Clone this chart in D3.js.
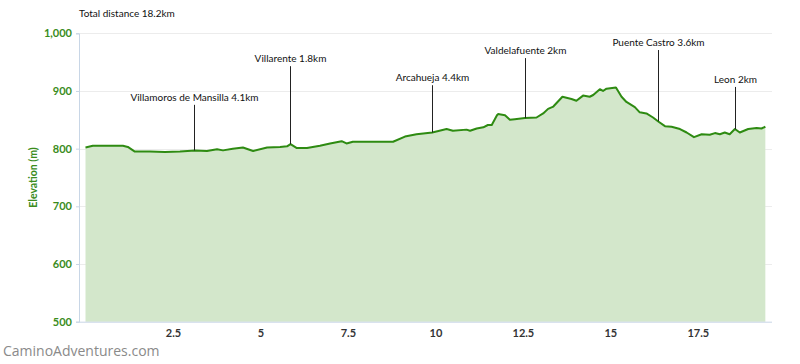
<!DOCTYPE html>
<html><head><meta charset="utf-8">
<script src="https://cdn.jsdelivr.net/npm/d3@7"></script>
<style>html,body{margin:0;padding:0;background:#fff;}svg{display:block;font-family:Lato,"Open Sans",sans-serif;}</style>
</head><body>
<svg id="c" width="800" height="364"></svg>
<script>
// ---- data ----
const distanceKm = [0,0.21,1.07,1.21,1.41,1.84,2.27,2.7,3.13,3.47,3.76,3.93,4.21,4.5,4.79,5.19,5.56,5.76,5.86,6.04,6.33,6.7,6.99,7.32,7.46,7.64,8.32,8.79,9.13,9.46,9.91,10.32,10.5,10.89,10.99,11.18,11.37,11.5,11.61,11.76,11.79,11.99,12.13,12.27,12.56,12.89,13.08,13.22,13.37,13.63,13.89,14.03,14.22,14.41,14.51,14.7,14.79,14.89,15.16,15.32,15.46,15.7,15.84,16.03,16.22,16.37,16.56,16.75,16.99,17.18,17.39,17.61,17.84,17.99,18.13,18.27,18.41,18.56,18.7,18.94,19.18,19.32,19.43];
const elevationM = [802,805,805,803,795,795,794,795,797,796,799,797,800,802,796,802,803,804,808,801,801,805,809,813,809,812,812,812,821,825,828,834,831,833,831,835,837,841,841,858,860,858,850,851,853,854,861,869,873,890,886,883,892,890,893,903,900,904,906,890,881,872,863,861,854,847,839,838,834,828,820,825,824,827,825,828,825,834,828,834,836,835,838];
const yTicks = [500,600,700,800,900,1000];
const xTicks = [2.5,5,7.5,10,12.5,15,17.5];
const markerNames = ["Villamoros de Mansilla 4.1km","Villarente 1.8km","Arcahueja 4.4km","Valdelafuente 2km","Puente Castro 3.6km","Leon 2km"];
const markerKm = [3.1,5.85,9.91,12.56,16.36,18.57];
const markerLabelElev = [876,943,910,957,971,907];
const titleText = "Total distance 18.2km";
const yTitle = "Elevation (m)";
const watermark = "CaminoAdventures.com";

// ---- layout ----
const svg = d3.select("#c");
const x = d3.scaleLinear().domain([0,19.62]).range([85.5,772]);
const y = d3.scaleLinear().domain([500,1000]).range([321.7,33.3]);
const data = distanceKm.map((d,i)=>({d, e: elevationM[i]}));
const green = "#3a8c1c";

// gridlines
svg.append("g").selectAll("line").data(yTicks.filter(t=>t>500)).join("line")
  .attr("x1",79).attr("x2",772).attr("y1",d=>Math.round(y(d))+0.5).attr("y2",d=>Math.round(y(d))+0.5)
  .attr("stroke","#ececec").attr("stroke-width",1);

// area + line
svg.append("path").datum(data)
  .attr("d", d3.area().x(p=>x(p.d)).y0(y(500)).y1(p=>y(p.e)))
  .attr("fill","#d3e7cb");
svg.append("path").datum(data)
  .attr("d", d3.line().x(p=>x(p.d)).y(p=>y(p.e)))
  .attr("fill","none").attr("stroke","#2e8b12").attr("stroke-width",2).attr("stroke-linejoin","round");

// y axis
const yAxis = d3.axisLeft(y).tickValues(yTicks).tickSize(3).tickPadding(4).tickFormat(d3.format(","));
const gy = svg.append("g").attr("transform","translate(79,0)").call(yAxis);
gy.select(".domain").attr("stroke","#c8d6e6");
gy.selectAll(".tick line").attr("stroke","#c8d6e6");
gy.selectAll("text").attr("fill",green).attr("font-weight","bold").attr("font-size",11).attr("font-family","Lato,sans-serif");

// x axis
const xAxis = d3.axisBottom(x).tickValues(xTicks).tickSize(0).tickPadding(8).tickFormat(d=>String(d));
const gx = svg.append("g").attr("transform",`translate(0,${y(500)})`).call(xAxis);
gx.select(".domain").attr("stroke","#c8d6e6").attr("d","M79,0.5H772");
gx.selectAll("text").attr("fill","#333").attr("font-weight","bold").attr("font-size",11).attr("font-family","Lato,sans-serif");

// y title
svg.append("text").attr("transform",`translate(37,${(y(500)+y(1000))/2}) rotate(-90)`)
  .attr("text-anchor","middle").attr("fill",green).attr("font-weight","bold").attr("font-size",10.5).text(yTitle);

// title
svg.append("text").attr("x",79).attr("y",17).attr("font-size",10).attr("fill","#111").text(titleText);

// markers
const bis = d3.bisector(p=>p.d).left;
function elevAt(km){
  const i = bis(data, km);
  if(i<=0) return data[0].e;
  const a=data[i-1], b=data[i];
  return a.e + (b.e-a.e)*(km-a.d)/(b.d-a.d);
}
const mg = svg.append("g");
markerNames.forEach((name,i)=>{
  const mx = Math.round(x(markerKm[i]))+0.5;
  const top = y(markerLabelElev[i]);
  mg.append("line").attr("x1",mx).attr("x2",mx).attr("y1",top).attr("y2",y(elevAt(markerKm[i])))
    .attr("stroke","#222").attr("stroke-width",1);
  mg.append("text").attr("x",mx).attr("y",top-4).attr("text-anchor","middle")
    .attr("font-size",10).attr("fill","#111").text(name);
});

// watermark
svg.append("text").attr("x",3).attr("y",356).attr("font-size",14).attr("fill","#8a8a8a")
  .attr("font-family","'Open Sans',sans-serif").text(watermark);
</script>
</body></html>
